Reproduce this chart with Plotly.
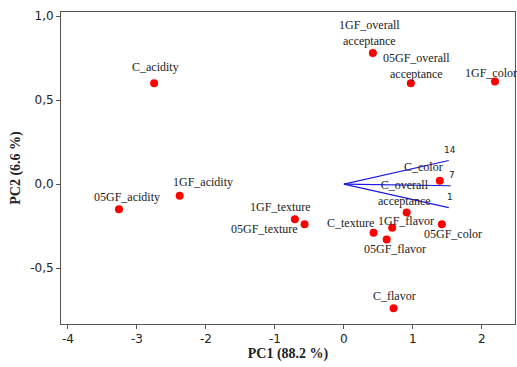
import plotly.graph_objects as go

# Scores (PC1, PC2)
labels = ["C_acidity", "1GF_acidity", "05GF_acidity",
          "1GF_overall<br>acceptance", "05GF_overall<br>acceptance", "1GF_color",
          "C_color", "C_overall<br>acceptance", "1GF_texture", "05GF_texture",
          "C_texture", "1GF_flavor", "05GF_flavor", "05GF_color", "C_flavor"]
pc1 = [-2.75, -2.38, -3.26, 0.42, 0.97, 2.19, 1.39, 0.91, -0.71, -0.57,
       0.43, 0.70, 0.62, 1.42, 0.72]
pc2 = [0.60, -0.07, -0.15, 0.78, 0.60, 0.61, 0.02, -0.17, -0.21, -0.24,
       -0.29, -0.26, -0.33, -0.24, -0.74]
# label offsets in pixels (style)
label_dx = [1, 23, 8, -3, 6, -4, -16, -2, -14, -40, -23, 14, 8, 11, 1]
label_dy = [16, 14, 12, 20, 17, 9, 14, 20, 12, -5, 10, 7, -10, -10, 12]

# Loading vectors
vec_names = ["14", "7", "1"]
vec_x = [1.52, 1.55, 1.52]
vec_y = [0.14, -0.01, -0.14]

x_ticks = [-4, -3, -2, -1, 0, 1, 2]
x_tick_labels = ["-4", "-3", "-2", "-1", "0", "1", "2"]
y_ticks = [-0.5, 0.0, 0.5, 1.0]
y_tick_labels = ["-0,5", "0,0", "0,5", "1,0"]

fig = go.Figure()

for vx, vy in zip(vec_x, vec_y):
    fig.add_trace(go.Scatter(x=[0, vx], y=[0, vy], mode="lines",
                             line=dict(color="#1a1ae6", width=1.2),
                             showlegend=False, hoverinfo="skip"))

fig.add_trace(go.Scatter(x=pc1, y=pc2, mode="markers",
                         marker=dict(color="#ff0000", size=8),
                         showlegend=False))

annotations = []
for lab, x, y, dx, dy in zip(labels, pc1, pc2, label_dx, label_dy):
    annotations.append(dict(x=x, y=y, text=lab, showarrow=False,
                            xshift=dx, yshift=dy,
                            font=dict(family="Liberation Serif", size=12, color="#222")))
for nm, x, y in zip(vec_names, vec_x, vec_y):
    annotations.append(dict(x=x, y=y, text=nm, showarrow=False,
                            xshift=1, yshift=11,
                            font=dict(family="DejaVu Sans", size=9, color="#222")))

axis_common = dict(showline=True, linecolor="#555", linewidth=1, mirror=True,
                   ticks="outside", ticklen=4, tickcolor="#555",
                   showgrid=False, zeroline=False, automargin=False,
                   tickfont=dict(family="DejaVu Sans", size=12, color="#222"))

fig.update_layout(
    width=517, height=367,
    margin=dict(l=61, r=2, t=12, b=43),
    paper_bgcolor="white", plot_bgcolor="white",
    annotations=annotations,
    xaxis=dict(range=[-4.10, 2.48], tickvals=x_ticks, ticktext=x_tick_labels,
               title=dict(text="<b>PC1 (88.2 %)</b>", standoff=2,
                          font=dict(family="Liberation Serif", size=14, color="#222")),
               **axis_common),
    yaxis=dict(range=[-0.833, 1.024], tickvals=y_ticks, ticktext=y_tick_labels,
               title=dict(text="<b>PC2 (6.6 %)</b>", standoff=6,
                          font=dict(family="Liberation Serif", size=14, color="#222")),
               **axis_common),
)

fig.write_html("out.html", config={"displayModeBar": False},
               post_script="document.body.style.margin='0';document.body.style.overflow='hidden';")
